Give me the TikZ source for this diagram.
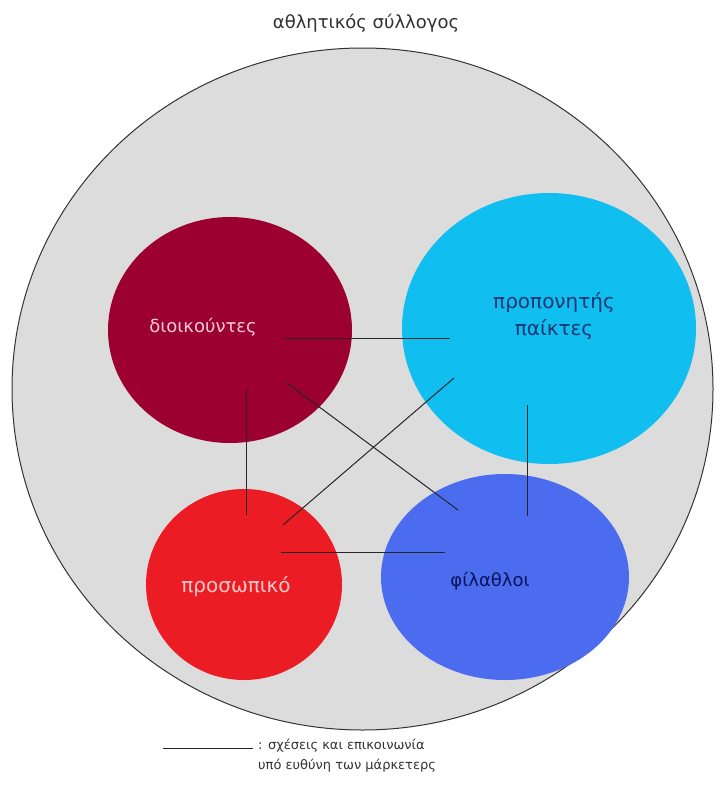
\documentclass[tikz,border=0pt]{standalone}
\usepackage{fontspec}
\setmainfont{DejaVu Sans}
\usetikzlibrary{shapes.geometric}
\definecolor{bgc}{RGB}{220,220,220}
\definecolor{cdark}{RGB}{155,0,48}
\definecolor{ccyan}{RGB}{16,190,240}
\definecolor{cred}{RGB}{236,28,36}
\definecolor{cblue}{RGB}{76,108,240}
\definecolor{tpink}{RGB}{242,200,215}
\definecolor{tpink2}{RGB}{250,200,200}
\definecolor{tnavy}{RGB}{25,55,115}
\definecolor{tnavy2}{RGB}{10,20,90}
\definecolor{ttitle}{RGB}{50,50,50}
\begin{document}
\begin{tikzpicture}[x=1pt,y=-1pt,
  blob/.style={ellipse, inner sep=0pt, outer sep=0pt, draw=none},
  lbl/.style={inner sep=0pt, font=\fontsize{18}{26}\selectfont, align=center},
  biglbl/.style={lbl, font=\fontsize{20}{27}\selectfont},
  conn/.style={draw=black!85, line width=1pt}]
\useasboundingbox (0,0) rectangle (721,800);
\fill[white] (0,0) rectangle (721,800);
% big club circle
\node[blob, fill=bgc, draw=black!80, line width=1pt, minimum width=701pt, minimum height=682pt] (club) at (362.5,389) {};
% member groups
\node[blob, fill=cdark, minimum width=244pt, minimum height=226pt] (dio) at (230,330) {};
\node[blob, fill=ccyan, minimum width=294pt, minimum height=271pt] (pro) at (549,328.5) {};
\node[blob, fill=cred, minimum width=196pt, minimum height=191pt] (pers) at (244,584.5) {};
\node[blob, fill=cblue, minimum width=248pt, minimum height=206pt] (fan) at (505,577) {};
% connector end points
\coordinate (a1) at (283,338);
\coordinate (a2) at (450,338);
\coordinate (b1) at (246,390);
\coordinate (b2) at (246,515);
\coordinate (c1) at (287,383);
\coordinate (c2) at (458,510);
\coordinate (d1) at (283,525);
\coordinate (d2) at (454,378);
\coordinate (e1) at (527,405);
\coordinate (e2) at (527,516);
\coordinate (f1) at (281,552);
\coordinate (f2) at (445,552);
\draw[conn] (a1) -- (a2);
\draw[conn] (b1) -- (b2);
\draw[conn] (c1) -- (c2);
\draw[conn] (d1) -- (d2);
\draw[conn] (e1) -- (e2);
\draw[conn] (f1) -- (f2);
% labels
\node[lbl, text=tpink] (tdio) at (203,327) {διοικούντες};
\node[biglbl, text=tnavy] (tpro) at (554,316) {προπονητής\\παίκτες};
\node[biglbl, text=tpink2] (tpers) at (236,587) {προσωπικό};
\node[lbl, text=tnavy2] (tfan) at (490,581) {φίλαθλοι};
\node[lbl, text=ttitle] (title) at (366,23) {αθλητικός σύλλογος};
% legend
\coordinate (l1) at (163,748);
\coordinate (l2) at (253,748);
\draw[conn] (l1) -- (l2);
\node[lbl, text=ttitle, anchor=north west, align=left, font=\fontsize{13}{20}\selectfont] (legend) at (258,739) {: σχέσεις και επικοινωνία\\υπό ευθύνη των μάρκετερς};
\end{tikzpicture}
\end{document}
